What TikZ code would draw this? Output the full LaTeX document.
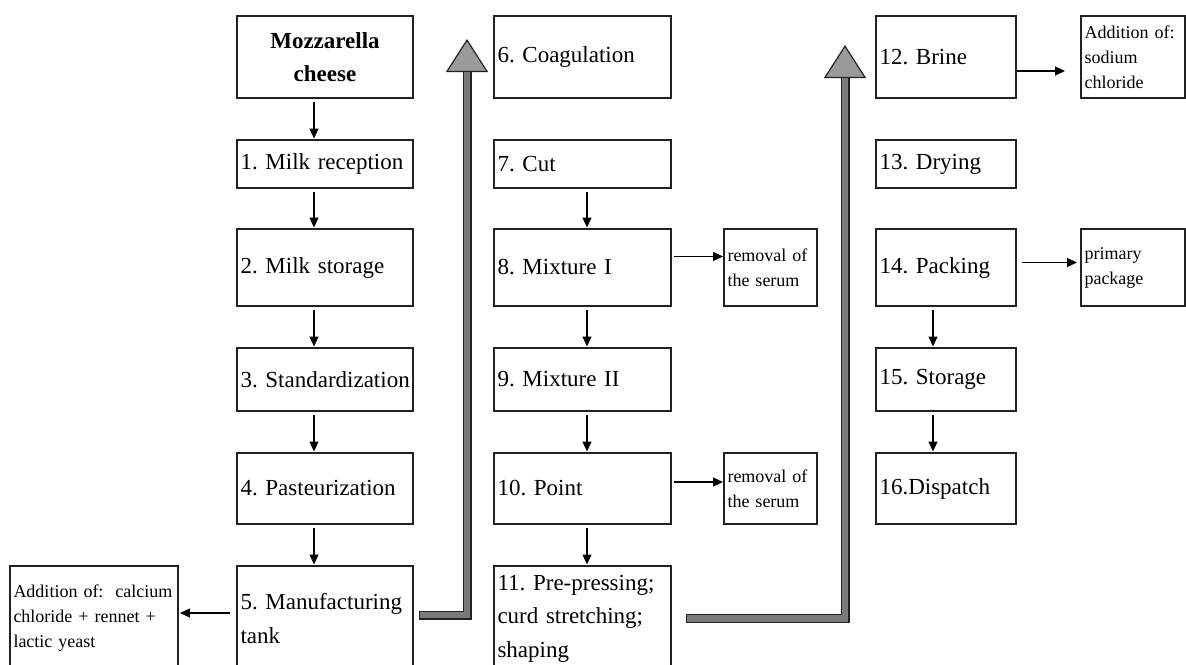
\documentclass[tikz,border=0pt]{standalone}
\usepackage{fontspec}
\setmainfont{Liberation Serif}
\frenchspacing
\usetikzlibrary{arrows.meta, positioning}
\definecolor{boxLine}{HTML}{222222}
\definecolor{shaftGrey}{HTML}{7A7A7A}
\definecolor{headGrey}{HTML}{9A9A9A}
\tikzset{
  % thin frames and small solid tips for the process flow
  every picture/.append style = {line width=1.2pt, >={Triangle[length=10pt, width=9pt]}},
  stage/.style   = {draw=boxLine, rectangle, anchor=north west, align=left, outer sep=0pt,
                    inner xsep=3.5pt, inner ysep=0pt, font=\fontsize{23}{33.5}\selectfont},
  note/.style    = {stage, font=\fontsize{18}{25}\selectfont},
  colA/.style    = {text width=169pt},
  colB/.style    = {text width=170pt},
  colC/.style    = {text width=133pt},
  flow/.style    = {->, black, shorten <=4pt, shorten >=1.5pt},
  sideflow/.style= {->, black},
  bigflow/.style = {line width=9pt, draw=boxLine, line join=miter,
                    -{Triangle[length=33pt, width=42pt, line width=1.2pt, fill=headGrey]},
                    postaction={draw=shaftGrey, line width=6.6pt, -, shorten >=33pt, shorten <=1.2pt}},
}

\begin{document}
\begin{tikzpicture}[x=1pt, y=-1pt, node distance=42pt]
  \useasboundingbox (0,0) rectangle (1186,664);
  \clip (0,0) rectangle (1186,664);
  % first column
  \node[stage, colA, align=center, minimum height=82pt] (moz) at (237,16) {\bfseries Mozzarella\\\bfseries cheese};
  \node[stage, colA, minimum height=48pt, below=of moz] (rec) {1. Milk reception};
  \node[stage, colA, minimum height=77pt, below=41pt of rec] (sto) {2. Milk storage};
  \node[stage, colA, minimum height=63pt, below=of sto] (std) {\mbox{3. Standardization}};
  \node[stage, colA, minimum height=71pt, below=of std] (pas) {4. Pasteurization};
  \node[stage, colA, minimum height=105pt, below=of pas] (tank) {5. Manufacturing\\tank};
  \node[note, text width=161pt, minimum height=105pt, left=59pt of tank] (addL)
       {Addition of:~~calcium\\chloride + rennet +\\lactic yeast};
  % second column
  \node[stage, colB, minimum height=82pt] (coag) at (494,16) {6. Coagulation};
  \node[stage, colB, minimum height=48pt, below=of coag] (cut) {7. Cut};
  \node[stage, colB, minimum height=77pt, below=41pt of cut] (mixA) {8. Mixture I};
  \node[stage, colB, minimum height=63pt, below=of mixA] (mixB) {9. Mixture II};
  \node[stage, colB, minimum height=71pt, below=of mixB] (point) {10. Point};
  \node[stage, colB, minimum height=105pt, below=of point] (shape)
       {11. Pre-pressing;\\curd stretching;\\shaping};
  \node[note, text width=86pt, minimum height=77pt, right=53pt of mixA] (serumA) {removal of\\the serum};
  \node[note, text width=86pt, minimum height=71pt, right=53pt of point] (serumB) {removal of\\the serum};
  % third column
  \node[stage, colC, minimum height=82pt] (brine) at (876,16) {12. Brine};
  \node[stage, colC, minimum height=48pt, below=of brine] (dry) {13. Drying};
  \node[stage, colC, minimum height=77pt, below=41pt of dry] (pack) {14. Packing};
  \node[stage, colC, minimum height=63pt, below=of pack] (store) {15. Storage};
  \node[stage, colC, minimum height=71pt, below=of store] (disp) {16.Dispatch};
  \node[note, text width=97pt, minimum height=82pt, right=65pt of brine] (salt) {Addition of:\\sodium\\chloride};
  \node[note, text width=97pt, minimum height=77pt, right=65pt of pack] (prim) {primary\\package};
  % downward steps
  \draw[flow] ([xshift=-11pt]moz.south) -- ([xshift=-11pt]rec.north);
  \draw[flow] ([xshift=-11pt]rec.south) -- ([xshift=-11pt]sto.north);
  \draw[flow] ([xshift=-11pt]sto.south) -- ([xshift=-11pt]std.north);
  \draw[flow] ([xshift=-11pt]std.south) -- ([xshift=-11pt]pas.north);
  \draw[flow] ([xshift=-11pt]pas.south) -- ([xshift=-11pt]tank.north);
  \draw[flow] ([xshift=4.5pt]cut.south) -- ([xshift=4.5pt]mixA.north);
  \draw[flow] ([xshift=4.5pt]mixA.south) -- ([xshift=4.5pt]mixB.north);
  \draw[flow] ([xshift=4.5pt]mixB.south) -- ([xshift=4.5pt]point.north);
  \draw[flow] ([xshift=4.5pt]point.south) -- ([xshift=4.5pt]shape.north);
  \draw[flow] ([xshift=-13pt]pack.south) -- ([xshift=-13pt]store.north);
  \draw[flow] ([xshift=-13pt]store.south) -- ([xshift=-13pt]disp.north);
  % side inputs and outputs
  \draw[sideflow, shorten <=7pt, shorten >=2pt] ([yshift=5.5pt]tank.west) -- ([yshift=5.5pt]addL.east);
  \draw[sideflow, shorten <=3pt, shorten >=1pt] ([yshift=11pt]mixA.east) -- ([yshift=11pt]serumA.west);
  \draw[sideflow, shorten <=3pt, shorten >=1pt] ([yshift=6.5pt]point.east) -- ([yshift=6.5pt]serumB.west);
  \draw[sideflow, shorten <=1pt, shorten >=16pt] ([yshift=-14pt]brine.east) -- ([yshift=-14pt]salt.west);
  \draw[sideflow, shorten <=6pt, shorten >=4pt] ([yshift=5pt]pack.east) -- ([yshift=5pt]prim.west);
  % large grey arrows to the next column
  \coordinate (peakA) at (467,39);
  \coordinate (peakB) at (845,45);
  \draw[bigflow] ([xshift=6pt, yshift=3.5pt]tank.east) -| (peakA);
  \draw[bigflow] ([xshift=15pt]shape.east) -| (peakB);
\end{tikzpicture}
\end{document}
